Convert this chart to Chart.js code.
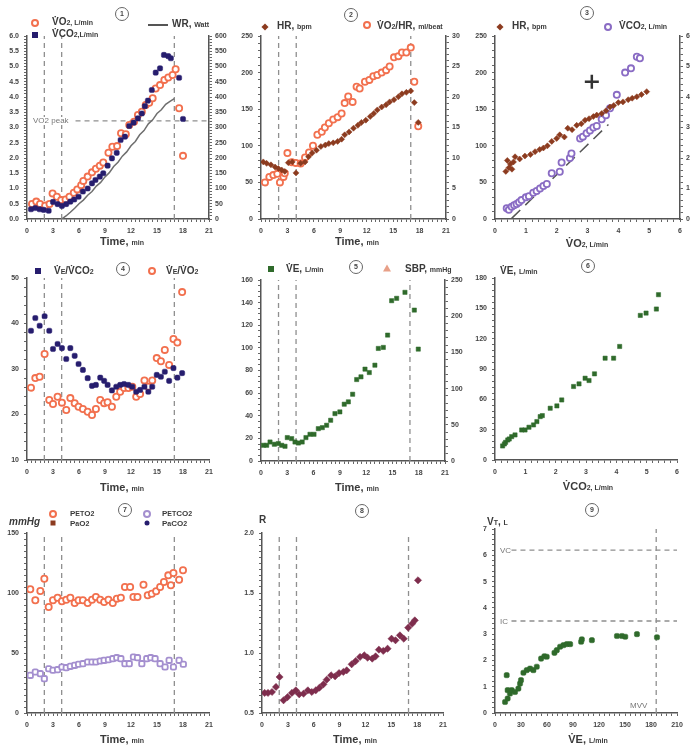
<!DOCTYPE html>
<html>
<head>
<meta charset="utf-8">
<script src="https://cdn.jsdelivr.net/npm/chart.js@4.4.0/dist/chart.umd.min.js"></script>
<style>
body{margin:0;background:#fff;}
#wrap{position:relative;width:697px;height:750px;overflow:hidden;font-family:"Liberation Sans",Arial,sans-serif;color:#3a3a3a;}
canvas{position:absolute;}
.t{position:absolute;white-space:nowrap;line-height:1;transform:translateY(-50%);font-weight:bold;font-size:10px;color:#3a3a3a;z-index:2;}
.t small{font-size:7px;}
.c{position:absolute;white-space:nowrap;line-height:1;transform:translate(-50%,-50%);font-weight:bold;font-size:11px;color:#3a3a3a;z-index:2;}
.c small{font-size:7px;}
.g{position:absolute;white-space:nowrap;line-height:1;transform:translateY(-50%);font-size:8px;color:#777;z-index:2;background:#fff;}
.num{position:absolute;width:12px;height:12px;border:1.5px solid #666;border-radius:50%;font-size:7px;font-weight:bold;text-align:center;line-height:12px;transform:translate(-50%,-50%);color:#444;z-index:2;}
.mk{position:absolute;transform:translate(-50%,-50%);box-sizing:border-box;z-index:2;}
</style>
</head>
<body>
<div id="wrap"></div>
<script>
// ---- data ----
// panel 1: VO2 / VCO2 (L/min) and work rate (W) vs time
const vo2T = [0.58,1.07,1.5,2.1,2.6,2.95,3.45,3.95,4.45,4.9,5.4,5.8,6.25,6.5,7.0,7.5,7.95,8.4,8.8,9.4,9.85,10.4,10.85,11.4,11.8,12.35,12.8,13.25,13.7,14.1,14.5,14.85,15.35,15.85,16.3,16.8,17.15,17.55,18.0];
const vo2 = [0.49,0.57,0.49,0.44,0.49,0.84,0.73,0.62,0.64,0.73,0.86,0.97,1.11,1.25,1.39,1.53,1.65,1.75,1.85,2.17,2.37,2.39,2.81,2.78,3.08,3.19,3.41,3.52,3.74,3.81,3.96,4.28,4.39,4.56,4.64,4.72,4.91,3.63,2.07];
const vco2T = [0.46,0.96,1.46,1.92,2.5,3.0,3.53,4.03,4.53,5.0,5.45,5.95,6.45,7.0,7.5,7.9,8.4,8.8,9.3,9.8,10.35,10.8,11.3,11.8,12.3,12.8,13.25,13.6,13.95,14.4,14.85,15.35,15.8,16.3,16.6,17.55,18.0];
const vco2 = [0.32,0.36,0.32,0.30,0.27,0.56,0.49,0.43,0.49,0.57,0.64,0.73,0.90,1.00,1.17,1.28,1.39,1.50,1.75,1.99,2.17,2.59,2.70,3.05,3.16,3.30,3.46,3.70,3.88,4.23,4.80,4.94,5.38,5.34,5.27,4.63,3.28];
const wrT = [4,4.5,5,5.5,6,6.5,7,7.5,8,8.5,9,9.5,10,10.5,11,11.5,12,12.5,13,13.5,14,14.5,15,15.5,16,16.5,17];
const wr = [0,10,22,35,50,62,78,90,108,120,138,152,172,186,206,220,240,254,276,290,312,325,346,358,376,386,395];
const vo2Peak = 3.22;
const phaseMarks = [2, 4, 17];

// panel 2: HR and O2 pulse vs time
const hrT = [0.26,0.64,1.13,1.6,1.97,2.35,2.7,3.1,3.55,3.97,4.5,5.0,5.4,5.8,6.3,6.8,7.3,7.7,8.2,8.7,9.15,9.5,10.0,10.5,11.0,11.4,11.9,12.4,12.8,13.2,13.7,14.2,14.6,15.1,15.6,16.0,16.5,17.0,17.4,17.85];
const hr = [78,76,74,71,69,67,65,77,78,63,76,78,85,90,94,99,101,103,104,106,109,115,119,124,128,132,135,140,144,149,153,156,160,163,167,171,173,175,159,132];
const o2pT = [0.45,0.95,1.4,1.85,2.15,2.55,2.7,3.0,3.5,3.95,4.5,5.0,5.45,5.9,6.4,6.9,7.25,7.7,8.2,8.7,9.15,9.5,9.9,10.4,10.85,11.2,11.8,12.3,12.75,13.2,13.7,14.2,14.6,15.1,15.6,16.0,16.5,17.0,17.4,17.85];
const o2p = [6.0,6.9,7.2,7.4,6.0,6.9,7.5,10.8,9.3,9.2,9.1,10.1,10.9,12.0,13.8,14.3,15.0,15.7,16.3,16.7,17.3,19.0,20.1,19.2,21.7,21.4,22.5,22.8,23.4,23.6,24.0,24.4,25.0,26.5,26.7,27.3,27.3,28.1,22.5,15.2];

// panel 3: HR and VCO2 vs VO2
const hrVo2 = [0.35,0.4,0.45,0.5,0.55,0.6,0.65,0.8,0.97,1.15,1.3,1.45,1.57,1.7,1.84,2.0,2.1,2.25,2.36,2.5,2.65,2.8,2.92,3.05,3.19,3.3,3.46,3.6,3.73,3.85,4.0,4.15,4.32,4.45,4.6,4.75,4.92];
const hrOnVo2 = [65,80,70,75,68,78,85,82,86,88,92,95,97,100,106,110,115,112,124,122,128,130,135,137,140,142,144,148,153,155,159,160,163,165,167,170,174];
const co2Vo2 = [0.38,0.45,0.54,0.62,0.7,0.78,0.86,1.0,1.1,1.24,1.35,1.46,1.57,1.68,1.84,2.1,2.16,2.43,2.48,2.76,2.85,2.97,3.08,3.19,3.3,3.46,3.6,3.73,3.95,4.22,4.41,4.6,4.7];
const co2OnVo2 = [0.35,0.3,0.4,0.45,0.49,0.55,0.62,0.71,0.75,0.86,0.92,1.0,1.08,1.15,1.5,1.55,1.85,2.0,2.15,2.64,2.7,2.81,2.9,3.0,3.05,3.27,3.4,3.63,4.07,4.8,4.94,5.32,5.27];
const slopeX = [0.54, 3.68];
const slopeY = [0.02, 3.1];
const crossX = [3.14];
const crossY = [4.5];

// panel 4: ventilatory equivalents
const eqT = [0.46,0.96,1.46,2.03,2.57,3.0,3.53,4.03,4.53,5.0,5.5,5.95,6.45,7.0,7.5,7.95,8.45,8.9,9.3,9.8,10.3,10.75,11.2,11.7,12.15,12.6,13.05,13.55,14.0,14.45,14.97,15.45,15.9,16.4,16.9,17.35,17.9];
const veCo2 = [38.4,41.2,39.5,41.6,38.4,34.4,35.5,34.6,32.2,34.6,32.9,31.1,29.8,28.0,26.3,26.5,28.1,27.4,26.5,25.3,26.1,26.5,26.7,26.5,26.1,25.0,25.4,26.1,25.0,26.1,28.7,28.3,29.4,27.4,30.2,28.1,29.1];
const veO2 = [25.9,28.0,28.3,33.3,23.2,22.3,23.9,22.6,21.0,23.6,22.5,21.7,21.2,20.6,19.9,21.2,23.2,22.5,22.7,21.7,23.9,25.0,25.8,25.8,26.1,23.9,24.5,27.5,26.1,27.5,32.4,31.7,34.2,30.9,36.6,35.8,46.9];

// panel 5: VE vs time
const veT = [0.27,0.65,1.03,1.52,1.98,2.36,2.74,3.0,3.5,3.88,4.26,4.7,5.13,5.59,6.05,6.54,7.0,7.49,7.95,8.44,9.0,9.5,9.97,10.46,10.92,11.41,11.87,12.36,13.0,13.39,13.96,14.45,14.91,15.48,16.43,17.5,17.95];
const ve = [13.9,13.9,16.8,14.8,15.4,13.9,13.0,20.7,19.8,16.8,15.9,16.8,20.7,23.6,23.6,28.6,29.5,31.6,36.0,41.9,43.4,50.2,52.3,59.0,72.0,74.4,81.2,78.2,84.7,99.5,100.4,111.3,141.7,143.8,149.1,133.4,98.9];

// panel 6: VE vs VCO2
const co2Six = [0.25,0.31,0.35,0.42,0.47,0.55,0.66,0.88,0.99,1.12,1.27,1.38,1.49,1.56,1.82,2.04,2.2,2.59,2.77,2.97,3.1,3.28,3.63,3.91,4.11,4.79,4.98,5.32,5.39];
const veSix = [13.9,15.9,17.5,19.8,20.8,23.1,24.8,29.7,29.7,32.4,34.7,38.0,42.9,43.9,51.2,53.5,59.4,72.7,75.3,80.9,78.6,85.2,100.7,100.7,112.3,143.0,145.3,149.3,163.5];

// panel 7: end-tidal gas tensions
const petT = [0.38,0.96,1.54,2.0,2.5,3.0,3.53,4.03,4.53,5.0,5.5,5.95,6.45,7.0,7.5,7.95,8.45,8.9,9.4,9.9,10.36,10.83,11.3,11.9,12.28,12.75,13.44,13.93,14.4,14.9,15.36,15.8,16.3,16.6,16.9,17.55,18.0];
const peto2 = [103.1,93.9,101.7,111.9,88.3,93.9,96.1,93.1,94.4,96.1,91.7,93.9,93.9,91.7,94.4,96.7,94.4,92.5,94.4,91.7,95.3,96.1,105.0,105.0,96.7,96.7,106.9,98.1,99.4,101.4,105.0,109.2,114.7,106.4,116.7,111.1,118.9];
const pcT = [0.38,0.96,1.54,2.0,2.5,3.0,3.53,4.03,4.53,5.0,5.5,5.95,6.45,7.0,7.5,7.95,8.45,8.9,9.4,9.9,10.36,10.83,11.3,11.8,12.28,12.75,13.25,13.82,14.28,14.78,15.36,15.93,16.4,16.9,17.55,18.04];
const petco2 = [31.4,34.2,32.8,28.6,36.9,35.6,36.1,38.3,37.8,38.9,39.7,40.6,41.1,42.5,42.5,42.5,43.3,43.9,44.4,45.3,46.1,45.3,41.1,41.1,46.7,46.1,41.1,45.3,46.1,45.3,41.1,38.3,43.9,38.3,43.9,40.6];

// panel 8: R
const rT = [0.31,0.69,1.16,1.62,2.04,2.5,2.97,3.47,3.93,4.32,4.82,5.32,5.78,6.24,6.67,7.13,7.51,8.02,8.48,8.94,9.44,9.83,10.4,10.87,11.37,11.87,12.25,12.79,13.18,13.56,14.07,14.57,15.03,15.49,16.0,16.45,16.96,17.42,17.73,18.1];
const rer = [0.667,0.667,0.675,0.717,0.80,0.606,0.633,0.667,0.689,0.656,0.661,0.689,0.675,0.689,0.711,0.739,0.778,0.814,0.806,0.833,0.842,0.856,0.906,0.933,0.967,0.981,0.961,0.953,0.972,1.028,1.017,1.036,1.119,1.106,1.147,1.119,1.211,1.244,1.272,1.606];

// panel 9: VT vs VE
const veNine = [11.6,14.6,14.6,13.5,17.3,19.3,23.1,27,28.9,30,32.8,36.6,40.5,44.3,48.2,53.2,57,59.7,68.6,71.3,75.1,79,82.9,86.7,99.4,100.2,111.8,140.7,146.4,150.3,163.8,186.9];
const vt = [0.42,0.55,0.87,1.44,0.74,0.87,0.8,0.93,1.12,1.25,1.53,1.63,1.69,1.63,1.76,2.07,2.16,2.14,2.29,2.39,2.52,2.58,2.62,2.62,2.71,2.8,2.77,2.93,2.93,2.9,3.0,2.88];
const vcLevel = 6.2, icLevel = 3.5, mvv = 186;

// ---- drawing ----
const ORANGE = '#f2704e', NAVY = '#261d6e', BROWN = '#8c3b1f', PURPLE = '#8a6cc4',
      LILAC = '#a48fcf', GREEN = '#2f6a2b', MAROON = '#7e2d4d', DASH = '#8f8f8f';
const wrap = document.getElementById('wrap');

function pts(xs, ys) { return xs.map((x, i) => ({x: x, y: ys[i]})); }
function isMajor(v, m) { const r = v / m; return Math.abs(r - Math.round(r)) < 1e-6; }

function axis(pos, min, max, minor, major, dec, size) {
  return {
    type: 'linear', position: pos, min: min, max: max,
    afterFit: s => { if (pos === 'bottom') s.height = size; else s.width = size; },
    ticks: {
      stepSize: minor, autoSkip: false, maxRotation: 0, minRotation: 0,
      padding: pos === 'right' ? 3 : 5, color: '#444',
      font: {family: 'Liberation Sans', size: 7, weight: 'bold'},
      callback: v => isMajor(v, major) ? v.toFixed(dec) : ''
    },
    grid: {drawOnChartArea: false, tickLength: 3, color: '#666', lineWidth: 1},
    border: {color: '#555', width: 1.5}
  };
}

function openDots(data, color, axisId) {
  return {data: data, yAxisID: axisId || 'y', pointStyle: 'circle', pointRadius: 3.1,
    borderWidth: 1.8, borderColor: color, backgroundColor: '#fff', order: 1};
}
function fullDots(data, color, style, r, axisId) {
  return {data: data, yAxisID: axisId || 'y', pointStyle: style, pointRadius: r,
    borderWidth: 0.5, borderColor: color, backgroundColor: color, order: 0};
}
function dashLine(data, axisId, dash, color, w) {
  return {data: data, yAxisID: axisId || 'y', showLine: true, pointRadius: 0,
    borderColor: color || DASH, borderWidth: w || 1.3, borderDash: dash || [5, 4], order: 10};
}
function vMarks(y0, y1, axisId) {
  return phaseMarks.map(x => dashLine([{x: x, y: y0}, {x: x, y: y1}], axisId));
}

function chart(rect, plot, scales, datasets) {
  const c = document.createElement('canvas');
  c.width = rect.w; c.height = rect.h;
  c.style.left = rect.l + 'px'; c.style.top = rect.t + 'px';
  wrap.appendChild(c);
  const hasRight = !!scales.y2;
  const xs = scales.x, ys = scales.y;
  const cfg = {
    x: axis('bottom', xs[0], xs[1], xs[2], xs[3], xs[4], rect.t + rect.h - plot.b),
    y: axis('left', ys[0], ys[1], ys[2], ys[3], ys[4], plot.l - rect.l)
  };
  if (hasRight) {
    const y2 = scales.y2;
    cfg.y2 = axis('right', y2[0], y2[1], y2[2], y2[3], y2[4], rect.l + rect.w - plot.r);
  }
  new Chart(c, {
    type: 'scatter',
    data: {datasets: datasets},
    options: {
      responsive: false, animation: false, events: [],
      layout: {padding: {top: plot.t - rect.t, right: hasRight ? 0 : rect.l + rect.w - plot.r, left: 0, bottom: 0}},
      plugins: {legend: {display: false}, tooltip: {enabled: false}},
      scales: cfg
    }
  });
}

const TIME = [0, 21, 0.5, 3, 0];

// 1
chart({l: 0, t: 0, w: 232, h: 250}, {l: 27, t: 36, r: 209, b: 219},
  {x: TIME, y: [0, 6, 0.1, 0.5, 1], y2: [0, 600, 10, 50, 0]},
  [openDots(pts(vo2T, vo2), ORANGE),
   fullDots(pts(vco2T, vco2), NAVY, 'rectRounded', 3),
   {data: pts(wrT, wr), yAxisID: 'y2', showLine: true, pointRadius: 0, borderColor: '#6f6f6f', borderWidth: 1.5, order: 5},
   dashLine([{x: 5.6, y: vo2Peak}, {x: 21, y: vo2Peak}])].concat(vMarks(0, 6)));

// 2
chart({l: 232, t: 0, w: 233, h: 250}, {l: 261, t: 36, r: 446, b: 219},
  {x: TIME, y: [0, 250, 10, 50, 0], y2: [0, 30, 1, 5, 0]},
  [fullDots(pts(hrT, hr), BROWN, 'rectRot', 3),
   openDots(pts(o2pT, o2p), ORANGE, 'y2')].concat(vMarks(0, 250)));

// 3
chart({l: 465, t: 0, w: 232, h: 250}, {l: 495, t: 36, r: 680, b: 219},
  {x: [0, 6, 0.2, 1, 0], y: [0, 250, 10, 50, 0], y2: [0, 6, 0.2, 1, 0]},
  [fullDots(pts(hrVo2, hrOnVo2), BROWN, 'rectRot', 3),
   openDots(pts(co2Vo2, co2OnVo2), PURPLE, 'y2'),
   dashLine(pts(slopeX, slopeY), 'y2', [12, 7], '#555', 1.5),
   {data: pts(crossX, crossY), yAxisID: 'y2', pointStyle: 'cross', pointRadius: 7, borderWidth: 2.5, borderColor: '#333', order: 0}]);

// 4
chart({l: 0, t: 250, w: 232, h: 240}, {l: 27, t: 278, r: 209, b: 460},
  {x: TIME, y: [10, 50, 2, 10, 0]},
  [fullDots(pts(eqT, veCo2), NAVY, 'rectRounded', 3),
   openDots(pts(eqT, veO2), ORANGE)].concat(vMarks(10, 50)));

// 5
chart({l: 232, t: 250, w: 233, h: 240}, {l: 261, t: 280, r: 445, b: 461},
  {x: TIME, y: [0, 160, 5, 20, 0], y2: [0, 250, 10, 50, 0]},
  [fullDots(pts(veT, ve), GREEN, 'rect', 3)].concat(vMarks(0, 160)));

// 6
chart({l: 465, t: 250, w: 232, h: 240}, {l: 495, t: 278, r: 677, b: 460},
  {x: [0, 6, 0.2, 1, 0], y: [0, 180, 6, 30, 0]},
  [fullDots(pts(co2Six, veSix), GREEN, 'rect', 3)]);

// 7
chart({l: 0, t: 490, w: 232, h: 260}, {l: 27, t: 533, r: 209, b: 713},
  {x: TIME, y: [0, 150, 5, 50, 0]},
  [openDots(pts(petT, peto2), ORANGE),
   {data: pts(pcT, petco2), pointStyle: 'rectRounded', pointRadius: 3.1, borderWidth: 1.8, borderColor: LILAC, backgroundColor: '#fff', order: 1}
  ].concat(vMarks(0, 150)));

// 8
chart({l: 232, t: 490, w: 233, h: 260}, {l: 262, t: 533, r: 443, b: 713},
  {x: TIME, y: [0.5, 2.0, 0.05, 0.5, 1]},
  [fullDots(pts(rT, rer), MAROON, 'rectRot', 3.6)].concat(vMarks(0.5, 2.0)));

// 9
chart({l: 465, t: 490, w: 232, h: 260}, {l: 495, t: 529, r: 677, b: 713},
  {x: [0, 210, 6, 30, 0], y: [0, 7, 0.2, 1, 0]},
  [fullDots(pts(veNine, vt), GREEN, 'rectRounded', 3),
   dashLine([{x: 19, y: vcLevel}, {x: 210, y: vcLevel}]),
   dashLine([{x: 19, y: icLevel}, {x: 210, y: icLevel}]),
   dashLine([{x: mvv, y: 0}, {x: mvv, y: 7}])]);

// ---- text overlays ----
const V = 'V\u0307';
const html = [
  // 1
  '<div class="num" style="left:122px;top:14px">1</div>',
  '<div class="mk" style="left:35px;top:23px;width:8px;height:8px;border:2px solid ' + ORANGE + ';border-radius:50%"></div>',
  '<div class="t" style="left:52px;top:22px">' + V + 'O<small>2, L/min</small></div>',
  '<div class="mk" style="left:35px;top:35px;width:6px;height:6px;background:' + NAVY + '"></div>',
  '<div class="t" style="left:52px;top:34px">' + V + 'CO<small>2,L/min</small></div>',
  '<div class="mk" style="left:158px;top:25px;width:20px;height:2px;background:#555"></div>',
  '<div class="t" style="left:172px;top:24px">WR, <small>Watt</small></div>',
  '<div class="g" style="left:33px;top:121px">VO2 peak</div>',
  '<div class="c" style="left:122px;top:241px">Time, <small>min</small></div>',
  // 2
  '<div class="num" style="left:351px;top:15px">2</div>',
  '<div class="mk" style="left:265px;top:27px;width:5px;height:5px;background:' + BROWN + ';transform:translate(-50%,-50%) rotate(45deg)"></div>',
  '<div class="t" style="left:277px;top:26px">HR, <small>bpm</small></div>',
  '<div class="mk" style="left:367px;top:25px;width:8px;height:8px;border:2px solid ' + ORANGE + ';border-radius:50%"></div>',
  '<div class="t" style="left:377px;top:26px">' + V + 'O<small>2</small>/HR, <small>ml/beat</small></div>',
  '<div class="c" style="left:357px;top:241px">Time, <small>min</small></div>',
  // 3
  '<div class="num" style="left:587px;top:13px">3</div>',
  '<div class="mk" style="left:500px;top:27px;width:5px;height:5px;background:' + BROWN + ';transform:translate(-50%,-50%) rotate(45deg)"></div>',
  '<div class="t" style="left:512px;top:26px">HR, <small>bpm</small></div>',
  '<div class="mk" style="left:608px;top:27px;width:8px;height:8px;border:2px solid ' + PURPLE + ';border-radius:50%"></div>',
  '<div class="t" style="left:619px;top:26px">' + V + 'CO<small>2, L/min</small></div>',
  '<div class="c" style="left:587px;top:243px">' + V + 'O<small>2, L/min</small></div>',
  // 4
  '<div class="mk" style="left:38px;top:271px;width:6px;height:6px;background:' + NAVY + '"></div>',
  '<div class="t" style="left:54px;top:271px">' + V + '<small>E</small>/' + V + 'CO<small>2</small></div>',
  '<div class="num" style="left:123px;top:269px">4</div>',
  '<div class="mk" style="left:152px;top:271px;width:8px;height:8px;border:2px solid ' + ORANGE + ';border-radius:50%"></div>',
  '<div class="t" style="left:166px;top:271px">' + V + '<small>E</small>/' + V + 'O<small>2</small></div>',
  '<div class="c" style="left:122px;top:487px">Time, <small>min</small></div>',
  // 5
  '<div class="mk" style="left:271px;top:269px;width:6px;height:6px;background:' + GREEN + '"></div>',
  '<div class="t" style="left:286px;top:269px">' + V + 'E, <small>L/min</small></div>',
  '<div class="num" style="left:356px;top:267px">5</div>',
  '<div class="mk" style="left:387px;top:268px;width:0;height:0;border-left:4px solid transparent;border-right:4px solid transparent;border-bottom:7px solid #e8a088"></div>',
  '<div class="t" style="left:405px;top:269px">SBP, <small>mmHg</small></div>',
  '<div class="c" style="left:357px;top:487px">Time, <small>min</small></div>',
  // 6
  '<div class="t" style="left:500px;top:271px">' + V + 'E, <small>L/min</small></div>',
  '<div class="num" style="left:588px;top:266px">6</div>',
  '<div class="c" style="left:588px;top:486px">' + V + 'CO<small>2, L/min</small></div>',
  // 7
  '<div class="t" style="left:9px;top:522px;font-style:italic">mmHg</div>',
  '<div class="mk" style="left:53px;top:514px;width:8px;height:8px;border:2px solid ' + ORANGE + ';border-radius:50%"></div>',
  '<div class="t" style="left:70px;top:514px;font-size:8px">P<small>ET</small>O<small>2</small></div>',
  '<div class="mk" style="left:53px;top:523px;width:5px;height:5px;background:' + BROWN + '"></div>',
  '<div class="t" style="left:70px;top:524px;font-size:8px">P<small>a</small>O<small>2</small></div>',
  '<div class="num" style="left:125px;top:510px">7</div>',
  '<div class="mk" style="left:147px;top:514px;width:8px;height:8px;border:2px solid ' + LILAC + ';border-radius:50%"></div>',
  '<div class="t" style="left:162px;top:514px;font-size:8px">P<small>ET</small>CO<small>2</small></div>',
  '<div class="mk" style="left:147px;top:523px;width:5px;height:5px;background:' + NAVY + ';border-radius:50%"></div>',
  '<div class="t" style="left:162px;top:524px;font-size:8px">P<small>a</small>CO<small>2</small></div>',
  '<div class="c" style="left:122px;top:739px">Time, <small>min</small></div>',
  // 8
  '<div class="t" style="left:259px;top:520px">R</div>',
  '<div class="num" style="left:362px;top:511px">8</div>',
  '<div class="c" style="left:355px;top:739px">Time, <small>min</small></div>',
  // 9
  '<div class="t" style="left:487px;top:522px">V<small>T</small>, <small>L</small></div>',
  '<div class="num" style="left:592px;top:510px">9</div>',
  '<div class="g" style="left:500px;top:551px">VC</div>',
  '<div class="g" style="left:500px;top:622px">IC</div>',
  '<div class="g" style="left:630px;top:706px;background:transparent">MVV</div>',
  '<div class="c" style="left:588px;top:739px">' + V + 'E, <small>L/min</small></div>'
];
wrap.insertAdjacentHTML('beforeend', html.join(''));
</script>
</body>
</html>
